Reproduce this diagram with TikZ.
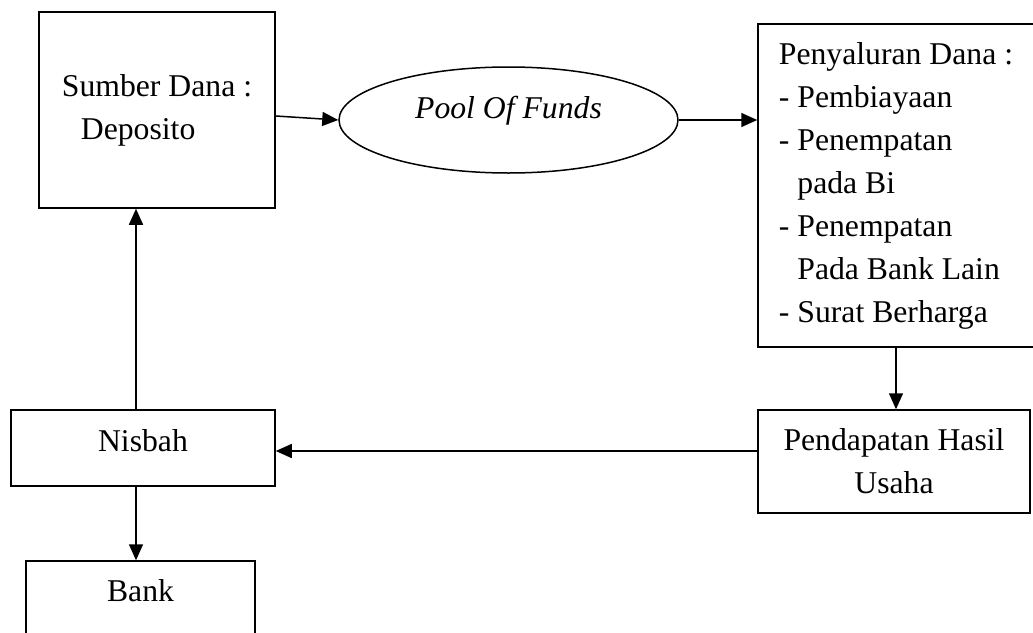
\documentclass[tikz,border=0pt]{standalone}
\usepackage{fontspec}
\setmainfont{Liberation Serif}
\usetikzlibrary{arrows.meta,shapes.geometric}
\begin{document}
\begin{tikzpicture}[x=1pt,y=-1pt,
  box/.style={draw, line width=1.5pt, inner sep=0pt, font=\fontsize{31.7}{43}\selectfont},
  arr/.style={line width=1.5pt, -{Triangle[length=16pt,width=14pt]}}]
\clip (0,0) rectangle (1033,632);
\fill[white] (0,0) rectangle (1033,632);
\node[box, minimum width=236pt, minimum height=196pt, align=left] (sumber) at (157,110)
  {Sumber Dana :\\\hspace*{19pt}Deposito};
\node[box, ellipse, minimum width=339pt, minimum height=106pt, text height=22pt, text depth=26pt,
  font=\fontsize{31.7}{43}\selectfont\itshape] (pool) at (508.5,120) {Pool Of Funds};
\node[box, minimum width=276pt, minimum height=323pt, align=left] (peny) at (896,185.5)
  {Penyaluran Dana :\\- Pembiayaan\\- Penempatan\\\hspace*{18.5pt}pada Bi\\- Penempatan\\\hspace*{18.5pt}Pada Bank Lain\\- Surat Berharga};
\node[box, minimum width=272pt, minimum height=103pt, align=center] (pend) at (894,461.5)
  {Pendapatan Hasil\\Usaha};
\node[box, minimum width=264pt, minimum height=76pt, text height=22pt, text depth=16pt] (nisbah) at (143,448) {Nisbah};
\node[box, minimum width=229pt, minimum height=100pt, text height=22pt, text depth=42pt] (bank) at (140.5,611) {Bank};
\draw[arr] ([yshift=-6pt]sumber.east) -- (pool.west);
\draw[arr] (pool.east) -- (pool.east -| peny.west);
\draw[arr] (peny.south) -- (peny.south |- pend.north);
\draw[arr] ([yshift=10.5pt]pend.west) coordinate (a) -- (a -| nisbah.east);
\draw[arr] ([xshift=-7pt]nisbah.north) coordinate (b) -- (b |- sumber.south);
\draw[arr] ([xshift=-7pt]nisbah.south) coordinate (c) -- (c |- bank.north);
\end{tikzpicture}
\end{document}
